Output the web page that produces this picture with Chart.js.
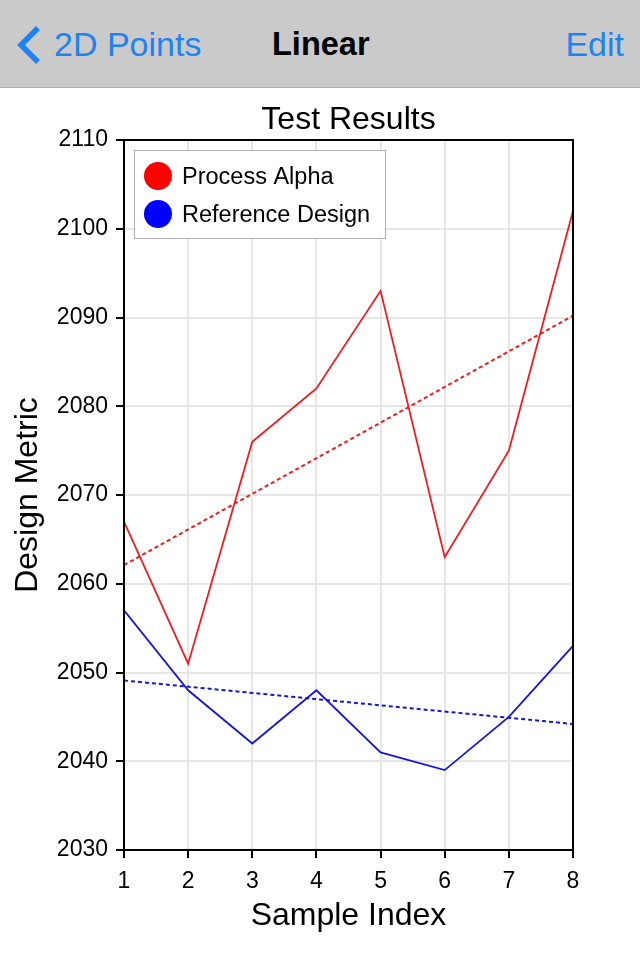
<!DOCTYPE html>
<html>
<head>
<meta charset="utf-8">
<script src="https://cdn.jsdelivr.net/npm/chart.js@4"></script>
<style>
  body { margin: 0; width: 640px; height: 960px; background: #fff; font-family: "Liberation Sans", Arial, sans-serif; overflow: hidden; }
  .navbar { position: absolute; left: 0; top: 0; width: 640px; height: 87px; background: #cacaca; border-bottom: 1px solid #adadad; }
  .navbar span { position: absolute; top: 24px; line-height: 40px; }
  .back { left: 54px; color: #1d83f5; font-size: 34px; }
  .title { left: 272px; font-size: 32.5px; font-weight: bold; color: #000; }
  .edit { right: 16px; color: #1d83f5; font-size: 34px; }
  .chev { position: absolute; left: 14px; top: 25px; }
  #wrap { position: absolute; left: 0; top: 88px; }
</style>
</head>
<body>
<div class="navbar">
  <svg class="chev" width="28" height="40" viewBox="0 0 28 40"><polyline points="24,3 7,20 24,37" fill="none" stroke="#1d83f5" stroke-width="5.5"/></svg>
  <span class="back">2D Points</span>
  <span class="title">Linear</span>
  <span class="edit">Edit</span>
</div>
<div id="wrap"><canvas id="chart" width="640" height="872"></canvas></div>
<script>
// chart values
const sampleIndex = [1, 2, 3, 4, 5, 6, 7, 8];
const processAlpha = [2067, 2051, 2076, 2082, 2093, 2063, 2075, 2102];
const referenceDesign = [2057, 2048, 2042, 2048, 2041, 2039, 2045, 2053];
// dotted trend lines, end points at x = 1 and x = 8
const trendX = [1, 8];
const alphaTrend = [2062.1, 2090.2];
const referenceTrend = [2049.1, 2044.2];
const yTicks = [2030, 2040, 2050, 2060, 2070, 2080, 2090, 2100, 2110];
const chartTitle = 'Test Results';

const RED = '#ec1c1f';
const BLUE = '#1616d8';
const FONT = '"Liberation Sans", Arial, sans-serif';

const toPoints = (xs, ys) => xs.map((x, i) => ({ x: x, y: ys[i] }));

// black frame around the plot area, title centred over it
const frame = {
  id: 'frame',
  afterDatasetsDraw(chart) {
    const a = chart.chartArea;
    const ctx = chart.ctx;
    ctx.save();
    ctx.strokeStyle = '#000';
    ctx.lineWidth = 2;
    ctx.strokeRect(a.left, a.top, a.right - a.left, a.bottom - a.top);
    ctx.fillStyle = '#000';
    ctx.font = '32px ' + FONT;
    ctx.textAlign = 'center';
    ctx.textBaseline = 'middle';
    ctx.fillText(chartTitle, (a.left + a.right) / 2, a.top - 20);
    ctx.restore();
  }
};

// boxed legend in the top left corner of the plot
const boxLegend = {
  id: 'boxLegend',
  afterDraw(chart) {
    const a = chart.chartArea;
    const ctx = chart.ctx;
    const items = chart.data.datasets.filter(d => !d.trend);
    const x = a.left + 10, y = a.top + 10;
    ctx.save();
    ctx.fillStyle = '#fff';
    ctx.fillRect(x, y, 251, 88);
    ctx.strokeStyle = '#b0b0b0';
    ctx.lineWidth = 1;
    ctx.strokeRect(x + 0.5, y + 0.5, 251, 88);
    ctx.font = '23.5px ' + FONT;
    ctx.textBaseline = 'middle';
    items.forEach((d, i) => {
      const cy = y + 26 + i * 38;
      ctx.beginPath();
      ctx.arc(x + 24, cy, 14, 0, Math.PI * 2);
      ctx.fillStyle = d.legendColor;
      ctx.fill();
      ctx.fillStyle = '#000';
      ctx.fillText(d.label, x + 48, cy + 2);
    });
    ctx.restore();
  }
};

new Chart(document.getElementById('chart').getContext('2d'), {
  type: 'line',
  data: {
    datasets: [
      { label: 'Process Alpha', data: toPoints(sampleIndex, processAlpha), borderColor: RED, legendColor: '#ff0000', borderWidth: 1.8, pointRadius: 0, tension: 0 },
      { label: 'Reference Design', data: toPoints(sampleIndex, referenceDesign), borderColor: BLUE, legendColor: '#0000ff', borderWidth: 1.8, pointRadius: 0, tension: 0 },
      { label: 'Alpha trend', trend: true, data: toPoints(trendX, alphaTrend), borderColor: RED, borderWidth: 2, borderDash: [4, 3], pointRadius: 0 },
      { label: 'Reference trend', trend: true, data: toPoints(trendX, referenceTrend), borderColor: BLUE, borderWidth: 2, borderDash: [4, 3], pointRadius: 0 }
    ]
  },
  options: {
    responsive: false,
    animation: false,
    devicePixelRatio: 1,
    layout: { padding: { left: 0, right: 67, top: 52, bottom: 0 } },
    plugins: {
      legend: { display: false },
      tooltip: { enabled: false },
      title: { display: false }
    },
    scales: {
      x: {
        type: 'linear',
        min: 1,
        max: 8,
        afterFit(scale) { scale.height = 110; },
        ticks: { stepSize: 1, color: '#000', padding: 10, font: { family: FONT, size: 23 } },
        grid: { color: '#e6e6e6', lineWidth: 2, tickColor: '#000', tickLength: 8, tickWidth: 2 },
        border: { color: '#000', width: 2 },
        title: { display: true, text: 'Sample Index', color: '#000', font: { family: FONT, size: 32, lineHeight: 1.2 }, padding: { top: 0, bottom: 25 } }
      },
      y: {
        min: yTicks[0],
        max: yTicks[yTicks.length - 1],
        afterFit(scale) { scale.width = 124; },
        afterBuildTicks(scale) { scale.ticks = yTicks.map(v => ({ value: v })); },
        ticks: { color: '#000', padding: 8, font: { family: FONT, size: 23 }, callback: v => String(v) },
        grid: { color: '#e6e6e6', lineWidth: 2, tickColor: '#000', tickLength: 8, tickWidth: 2 },
        border: { color: '#000', width: 2 },
        title: { display: true, text: 'Design Metric', color: '#000', font: { family: FONT, size: 32, lineHeight: 1.2 }, padding: { top: 9, bottom: 0 } }
      }
    }
  },
  plugins: [frame, boxLegend]
});
</script>
</body>
</html>
